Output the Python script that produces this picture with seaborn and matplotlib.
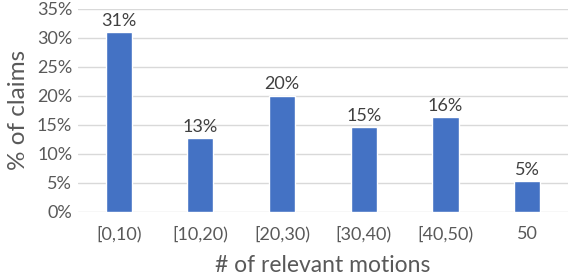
"""   Share of claims by number of relevant motions, Excel-style bar chart   """
import matplotlib.pyplot as plt
import pandas as pd
import seaborn as sns
from matplotlib.ticker import PercentFormatter

# ~~~~~~~  Data  ~~~~~~~ #
bins = ['[0,10)', '[10,20)', '[20,30)', '[30,40)', '[40,50)', '50']
shares = [0.310, 0.127, 0.200, 0.146, 0.163, 0.053]

df = pd.DataFrame({'bin': bins, 'share': shares})

# ~~~~~~~  Plot  ~~~~~~~ #
sns.set_style('white')
plt.rcParams['font.family'] = ['Lato', 'DejaVu Sans']

fig = plt.figure(figsize=(5.68, 2.72), dpi=100)
axes = fig.add_axes([0.137, 0.221, 0.863, 0.746])

sns.barplot(data=df, x='bin', y='share', order=bins, color='#4472C4',
            saturation=1, width=0.32, ax=axes, zorder=3)

axes.set_ylim(0, 0.35)
axes.set_yticks([i * 0.05 for i in range(8)])
axes.yaxis.set_major_formatter(PercentFormatter(1.0, decimals=0))
axes.grid(axis='y', color='#D9D9D9', linewidth=1, zorder=0)
axes.set_xlim(-0.5, len(bins) - 0.5)
sns.despine(ax=axes, left=True, bottom=True, right=True, top=True)

axes.tick_params(axis='both', length=0, labelsize=13, labelcolor='#595959')
axes.tick_params(axis='x', pad=10)
axes.tick_params(axis='y', pad=4)
axes.set_xlabel('# of relevant motions', fontsize=16.5, color='#595959', labelpad=9)
axes.set_ylabel('% of claims', fontsize=17.5, color='#595959', labelpad=6)

# value labels above the bars
for bar, share in zip(axes.patches, shares):
    axes.text(bar.get_x() + bar.get_width() / 2, bar.get_height() + 0.006,
              f'{share:.0%}', ha='center', va='bottom', fontsize=13, color='#404040')

fig.savefig('out.png', dpi=100)
